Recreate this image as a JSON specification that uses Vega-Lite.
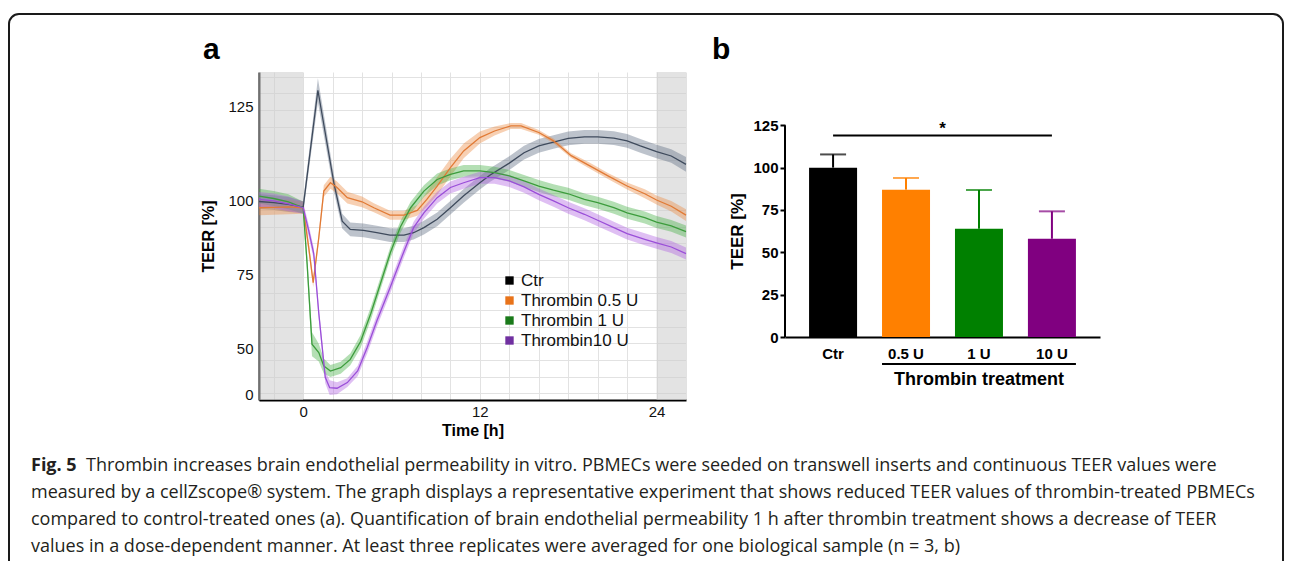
{
"$schema": "https://vega.github.io/schema/vega-lite/v6.json",
"background": "white",
"padding": {"left": 8, "top": 12, "right": 0, "bottom": 0},
"config": {"view": {"stroke": null}, "font": "Liberation Sans", "axis": {"labelFont": "Liberation Sans", "titleFont": "Liberation Sans", "labelFlush": false}},
"columns": 2,
"bounds": "flush",
"spacing": {"row": 41, "column": 99},
"resolve": {"scale": {"color": "independent", "fill": "independent", "stroke": "independent"}, "legend": {"color": "independent", "stroke": "independent", "fill": "independent"}},
"concat": [
    {
     "width": 427, "height": 328,
     "title": {"text": "a", "anchor": "start", "frame": "group", "dx": -56, "offset": -17, "baseline": "alphabetic", "fontSize": 30, "fontWeight": "bold", "font": "Liberation Sans", "color": "#000"},
     "data": {"values": [
{"s":"Ctr","t":-3,"v":99.6,"lo":97.1,"hi":102.1},
{"s":"Ctr","t":-2,"v":99.2,"lo":96.7,"hi":101.7},
{"s":"Ctr","t":-1,"v":98.6,"lo":96.1,"hi":101.1},
{"s":"Ctr","t":0,"v":97.7,"lo":95.7,"hi":99.7},
{"s":"Ctr","t":1.0,"v":137,"lo":133,"hi":141},
{"s":"Ctr","t":2.1,"v":105.4,"lo":102.6,"hi":108.2},
{"s":"Ctr","t":2.65,"v":93,"lo":90.5,"hi":95.5},
{"s":"Ctr","t":3.2,"v":90.2,"lo":87.9,"hi":92.5},
{"s":"Ctr","t":4.1,"v":89.9,"lo":87.6,"hi":92.2},
{"s":"Ctr","t":5.0,"v":89.1,"lo":86.8,"hi":91.4},
{"s":"Ctr","t":5.9,"v":88.3,"lo":86.0,"hi":90.6},
{"s":"Ctr","t":6.85,"v":88.3,"lo":86.0,"hi":90.6},
{"s":"Ctr","t":7.5,"v":89.1,"lo":86.8,"hi":91.4},
{"s":"Ctr","t":8.2,"v":90.8,"lo":88.5,"hi":93.1},
{"s":"Ctr","t":9.1,"v":93.6,"lo":91.3,"hi":95.9},
{"s":"Ctr","t":10,"v":97.5,"lo":95.2,"hi":99.8},
{"s":"Ctr","t":10.9,"v":101.5,"lo":99.2,"hi":103.8},
{"s":"Ctr","t":12,"v":105.9,"lo":103.6,"hi":108.2},
{"s":"Ctr","t":12.7,"v":108.5,"lo":106.2,"hi":110.8},
{"s":"Ctr","t":14,"v":112.5,"lo":110.2,"hi":114.8},
{"s":"Ctr","t":15,"v":116,"lo":113.7,"hi":118.3},
{"s":"Ctr","t":16,"v":118.3,"lo":116.0,"hi":120.6},
{"s":"Ctr","t":17,"v":119.6,"lo":117.3,"hi":121.9},
{"s":"Ctr","t":18,"v":120.8,"lo":118.5,"hi":123.1},
{"s":"Ctr","t":19.1,"v":121.3,"lo":119.0,"hi":123.6},
{"s":"Ctr","t":20,"v":121.3,"lo":119.0,"hi":123.6},
{"s":"Ctr","t":21.1,"v":120.9,"lo":118.6,"hi":123.2},
{"s":"Ctr","t":22,"v":120.0,"lo":117.7,"hi":122.3},
{"s":"Ctr","t":22.9,"v":118.3,"lo":116.0,"hi":120.6},
{"s":"Ctr","t":24,"v":116.4,"lo":114.1,"hi":118.7},
{"s":"Ctr","t":25,"v":114.9,"lo":112.6,"hi":117.2},
{"s":"Ctr","t":26,"v":112.1,"lo":109.6,"hi":114.6},
{"s":"Thrombin 0.5 U","t":-3,"v":97.5,"lo":95,"hi":100},
{"s":"Thrombin 0.5 U","t":-2,"v":97.6,"lo":95.1,"hi":100.1},
{"s":"Thrombin 0.5 U","t":-1,"v":97.8,"lo":95.3,"hi":100.3},
{"s":"Thrombin 0.5 U","t":0,"v":97.5,"lo":95.5,"hi":99.5},
{"s":"Thrombin 0.5 U","t":0.38,"v":84,"lo":82,"hi":86},
{"s":"Thrombin 0.5 U","t":0.68,"v":72.3,"lo":70.8,"hi":73.8},
{"s":"Thrombin 0.5 U","t":1.06,"v":87.4,"lo":85.9,"hi":88.9},
{"s":"Thrombin 0.5 U","t":1.4,"v":103.1,"lo":101.1,"hi":105.1},
{"s":"Thrombin 0.5 U","t":1.85,"v":105.9,"lo":103.9,"hi":107.9},
{"s":"Thrombin 0.5 U","t":2.3,"v":104.3,"lo":102.3,"hi":106.3},
{"s":"Thrombin 0.5 U","t":3.0,"v":100.9,"lo":98.9,"hi":102.9},
{"s":"Thrombin 0.5 U","t":4.0,"v":99.5,"lo":97.7,"hi":101.3},
{"s":"Thrombin 0.5 U","t":4.8,"v":97.5,"lo":96,"hi":99},
{"s":"Thrombin 0.5 U","t":5.9,"v":95,"lo":93.5,"hi":96.5},
{"s":"Thrombin 0.5 U","t":6.85,"v":95,"lo":93.5,"hi":96.5},
{"s":"Thrombin 0.5 U","t":7.75,"v":96.6,"lo":94.8,"hi":98.4},
{"s":"Thrombin 0.5 U","t":8.4,"v":100.3,"lo":97.8,"hi":102.8},
{"s":"Thrombin 0.5 U","t":9.1,"v":104.8,"lo":101.8,"hi":107.8},
{"s":"Thrombin 0.5 U","t":10,"v":111,"lo":108,"hi":114},
{"s":"Thrombin 0.5 U","t":10.9,"v":116.6,"lo":114.1,"hi":119.1},
{"s":"Thrombin 0.5 U","t":12,"v":121.1,"lo":119.1,"hi":123.1},
{"s":"Thrombin 0.5 U","t":13,"v":123.3,"lo":121.8,"hi":124.8},
{"s":"Thrombin 0.5 U","t":14.1,"v":125,"lo":124,"hi":126},
{"s":"Thrombin 0.5 U","t":14.8,"v":125,"lo":124,"hi":126},
{"s":"Thrombin 0.5 U","t":16,"v":122.8,"lo":122,"hi":123.6},
{"s":"Thrombin 0.5 U","t":17,"v":120,"lo":119.2,"hi":120.8},
{"s":"Thrombin 0.5 U","t":18.2,"v":115,"lo":114.2,"hi":115.8},
{"s":"Thrombin 0.5 U","t":19.5,"v":111.5,"lo":110.5,"hi":112.5},
{"s":"Thrombin 0.5 U","t":20.7,"v":108.2,"lo":107.2,"hi":109.2},
{"s":"Thrombin 0.5 U","t":22,"v":104.8,"lo":103.6,"hi":106},
{"s":"Thrombin 0.5 U","t":23.2,"v":102.2,"lo":100.7,"hi":103.7},
{"s":"Thrombin 0.5 U","t":24,"v":100.1,"lo":98.6,"hi":101.6},
{"s":"Thrombin 0.5 U","t":25,"v":98,"lo":96.2,"hi":99.8},
{"s":"Thrombin 0.5 U","t":26,"v":95,"lo":93,"hi":97},
{"s":"Thrombin 1 U","t":-3,"v":101.4,"lo":98.9,"hi":103.9},
{"s":"Thrombin 1 U","t":-2,"v":100.6,"lo":98.1,"hi":103.1},
{"s":"Thrombin 1 U","t":-1,"v":99.5,"lo":97,"hi":102},
{"s":"Thrombin 1 U","t":0,"v":97.5,"lo":95.5,"hi":99.5},
{"s":"Thrombin 1 U","t":0.27,"v":78.5,"lo":75.5,"hi":81.5},
{"s":"Thrombin 1 U","t":0.6,"v":51.6,"lo":47.6,"hi":55.6},
{"s":"Thrombin 1 U","t":1.06,"v":48.8,"lo":45.8,"hi":51.8},
{"s":"Thrombin 1 U","t":1.4,"v":44.3,"lo":41.8,"hi":46.8},
{"s":"Thrombin 1 U","t":1.85,"v":42.6,"lo":40.6,"hi":44.6},
{"s":"Thrombin 1 U","t":2.55,"v":43.7,"lo":41.7,"hi":45.7},
{"s":"Thrombin 1 U","t":3.2,"v":46.5,"lo":44.5,"hi":48.5},
{"s":"Thrombin 1 U","t":3.9,"v":52.5,"lo":50.3,"hi":54.7},
{"s":"Thrombin 1 U","t":4.6,"v":62,"lo":59.8,"hi":64.2},
{"s":"Thrombin 1 U","t":5.25,"v":72,"lo":70,"hi":74},
{"s":"Thrombin 1 U","t":5.93,"v":82.5,"lo":80.5,"hi":84.5},
{"s":"Thrombin 1 U","t":6.6,"v":91,"lo":89,"hi":93},
{"s":"Thrombin 1 U","t":7.3,"v":97.5,"lo":95.5,"hi":99.5},
{"s":"Thrombin 1 U","t":8.2,"v":103.1,"lo":101.1,"hi":105.1},
{"s":"Thrombin 1 U","t":9.1,"v":107,"lo":105,"hi":109},
{"s":"Thrombin 1 U","t":10,"v":108.7,"lo":106.7,"hi":110.7},
{"s":"Thrombin 1 U","t":10.9,"v":109.9,"lo":107.9,"hi":111.9},
{"s":"Thrombin 1 U","t":12,"v":109.9,"lo":107.9,"hi":111.9},
{"s":"Thrombin 1 U","t":13,"v":109.3,"lo":107.3,"hi":111.3},
{"s":"Thrombin 1 U","t":14,"v":108.2,"lo":106.2,"hi":110.2},
{"s":"Thrombin 1 U","t":15,"v":106.5,"lo":104.5,"hi":108.5},
{"s":"Thrombin 1 U","t":16,"v":104.8,"lo":102.8,"hi":106.8},
{"s":"Thrombin 1 U","t":17,"v":103.4,"lo":101.4,"hi":105.4},
{"s":"Thrombin 1 U","t":18,"v":102.2,"lo":100.2,"hi":104.2},
{"s":"Thrombin 1 U","t":19.1,"v":100.3,"lo":98.3,"hi":102.3},
{"s":"Thrombin 1 U","t":20,"v":99.2,"lo":97.2,"hi":101.2},
{"s":"Thrombin 1 U","t":21.1,"v":97.5,"lo":95.5,"hi":99.5},
{"s":"Thrombin 1 U","t":22,"v":95.8,"lo":93.8,"hi":97.8},
{"s":"Thrombin 1 U","t":23.2,"v":94.2,"lo":92.2,"hi":96.2},
{"s":"Thrombin 1 U","t":24,"v":92.7,"lo":90.7,"hi":94.7},
{"s":"Thrombin 1 U","t":25,"v":91.4,"lo":89.4,"hi":93.4},
{"s":"Thrombin 1 U","t":26,"v":89.5,"lo":87.5,"hi":91.5},
{"s":"Thrombin10 U","t":-3,"v":100.3,"lo":97.8,"hi":102.8},
{"s":"Thrombin10 U","t":-2,"v":99.8,"lo":97.3,"hi":102.3},
{"s":"Thrombin10 U","t":-1,"v":98.8,"lo":96.3,"hi":101.3},
{"s":"Thrombin10 U","t":0,"v":97.5,"lo":95.5,"hi":99.5},
{"s":"Thrombin10 U","t":0.38,"v":89.7,"lo":87.7,"hi":91.7},
{"s":"Thrombin10 U","t":0.72,"v":82,"lo":80,"hi":84},
{"s":"Thrombin10 U","t":1.06,"v":62,"lo":60,"hi":64},
{"s":"Thrombin10 U","t":1.5,"v":40.5,"lo":38.5,"hi":42.5},
{"s":"Thrombin10 U","t":1.8,"v":37,"lo":34.5,"hi":39.5},
{"s":"Thrombin10 U","t":2.3,"v":36.8,"lo":34.8,"hi":38.8},
{"s":"Thrombin10 U","t":3.0,"v":38.7,"lo":37.2,"hi":40.2},
{"s":"Thrombin10 U","t":3.7,"v":42.6,"lo":40.8,"hi":44.4},
{"s":"Thrombin10 U","t":4.35,"v":50.5,"lo":48.5,"hi":52.5},
{"s":"Thrombin10 U","t":5.0,"v":59.4,"lo":57.4,"hi":61.4},
{"s":"Thrombin10 U","t":5.9,"v":70.6,"lo":68.6,"hi":72.6},
{"s":"Thrombin10 U","t":6.85,"v":82.9,"lo":80.9,"hi":84.9},
{"s":"Thrombin10 U","t":7.5,"v":90.8,"lo":88.8,"hi":92.8},
{"s":"Thrombin10 U","t":8.2,"v":95.8,"lo":93.8,"hi":97.8},
{"s":"Thrombin10 U","t":9.1,"v":100.9,"lo":98.9,"hi":102.9},
{"s":"Thrombin10 U","t":10,"v":104.3,"lo":102.3,"hi":106.3},
{"s":"Thrombin10 U","t":10.9,"v":105.9,"lo":103.9,"hi":107.9},
{"s":"Thrombin10 U","t":12,"v":107.6,"lo":105.6,"hi":109.6},
{"s":"Thrombin10 U","t":13,"v":107.6,"lo":105.6,"hi":109.6},
{"s":"Thrombin10 U","t":14,"v":106.5,"lo":104.5,"hi":108.5},
{"s":"Thrombin10 U","t":15,"v":104.5,"lo":102.5,"hi":106.5},
{"s":"Thrombin10 U","t":16,"v":102,"lo":100,"hi":104},
{"s":"Thrombin10 U","t":17,"v":99.8,"lo":97.8,"hi":101.8},
{"s":"Thrombin10 U","t":18,"v":97.5,"lo":95.5,"hi":99.5},
{"s":"Thrombin10 U","t":19.1,"v":95.3,"lo":93.3,"hi":97.3},
{"s":"Thrombin10 U","t":20,"v":93.3,"lo":91.3,"hi":95.3},
{"s":"Thrombin10 U","t":21.1,"v":90.8,"lo":88.8,"hi":92.8},
{"s":"Thrombin10 U","t":22,"v":88.8,"lo":86.8,"hi":90.8},
{"s":"Thrombin10 U","t":23.2,"v":86.9,"lo":84.9,"hi":88.9},
{"s":"Thrombin10 U","t":24,"v":85.7,"lo":83.7,"hi":87.7},
{"s":"Thrombin10 U","t":25,"v":84.3,"lo":82.3,"hi":86.3},
{"s":"Thrombin10 U","t":26,"v":82.1,"lo":80.1,"hi":84.1}
     ]},
     "layer": [
      {
       "data": {"values": [{"a": -3, "b": 0}, {"a": 24, "b": 26}]},
       "mark": {"type": "rect", "color": "#cccccc", "opacity": 0.55},
       "encoding": {
        "x": {"field": "a", "type": "quantitative", "scale": {"domain": [-3, 26], "nice": false, "zero": false},
              "axis": {"title": "Time [h]", "values": [-2,0,2,4,6,8,10,12,14,16,18,20,22,24,26], "labelExpr": "datum.value % 12 === 0 ? datum.label : ''", "grid": true, "gridColor": "#e2e2e2", "ticks": false, "domainColor": "#000", "domainWidth": 2, "labelFontSize": 15, "labelColor": "#111", "labelPadding": 4, "titleFontSize": 16, "titleFontWeight": "bold", "titleColor": "#000", "titlePadding": 3}},
        "x2": {"field": "b"}
       }
      },
      {
       "mark": {"type": "area", "opacity": 0.4},
       "encoding": {
        "x": {"field": "t", "type": "quantitative", "scale": {"domain": [-3, 26], "nice": false, "zero": false},
              "axis": {"title": "Time [h]", "values": [-2,0,2,4,6,8,10,12,14,16,18,20,22,24,26], "labelExpr": "datum.value % 12 === 0 ? datum.label : ''", "grid": true, "gridColor": "#e2e2e2", "ticks": false, "domainColor": "#000", "domainWidth": 2, "labelFontSize": 15, "labelColor": "#111", "labelPadding": 4, "titleFontSize": 16, "titleFontWeight": "bold", "titleColor": "#000", "titlePadding": 3}},
        "y": {"field": "lo", "type": "quantitative", "scale": {"domain": [32.85, 143.14], "nice": false, "zero": false},
              "axis": {"orient": "right", "title": null, "values": [141.56,135.96,130.35,124.75,119.14,113.54,107.93,102.33,96.72,91.12,85.51,79.91,74.30,68.70,63.09,57.49,51.88,46.28,40.67,35.07], "labels": false, "ticks": false, "domain": false, "grid": true, "gridColor": "#e2e2e2"}},
        "y2": {"field": "hi"},
        "fill": {"field": "s", "type": "nominal", "scale": {"range": ["#5a6a80", "#ec8a40", "#43b043", "#b060e0"]}, "legend": null}
       }
      },
      {
       "mark": {"type": "line", "strokeWidth": 1.3},
       "encoding": {
        "x": {"field": "t", "type": "quantitative", "scale": {"domain": [-3, 26], "nice": false, "zero": false},
              "axis": {"title": "Time [h]", "values": [-2,0,2,4,6,8,10,12,14,16,18,20,22,24,26], "labelExpr": "datum.value % 12 === 0 ? datum.label : ''", "grid": true, "gridColor": "#e2e2e2", "ticks": false, "domainColor": "#000", "domainWidth": 2, "labelFontSize": 15, "labelColor": "#111", "labelPadding": 4, "titleFontSize": 16, "titleFontWeight": "bold", "titleColor": "#000", "titlePadding": 3}},
        "y": {"field": "v", "type": "quantitative", "scale": {"domain": [32.85, 143.14], "nice": false, "zero": false},
              "axis": {"orient": "left", "title": "TEER [%]", "values": [34.8, 50, 75, 100, 131.4], "labelExpr": "datum.value > 120 ? '125' : (datum.value < 40 ? '0' : format(datum.value, 'd'))", "grid": false, "ticks": false, "domainColor": "#000", "domainWidth": 2, "labelPadding": 6, "labelFontSize": 15, "labelColor": "#111", "titleFontSize": 16, "titleFontWeight": "bold", "titleColor": "#000", "titlePadding": 11}},
        "stroke": {"field": "s", "type": "nominal", "scale": {"domain": ["Ctr", "Thrombin 0.5 U", "Thrombin 1 U", "Thrombin10 U"], "range": ["#3e4a5c", "#e17a35", "#3c9c3c", "#9a4ed8"]},
                   "legend": {"orient": "none", "legendX": 242, "legendY": 200, "title": null, "symbolType": "square", "symbolSize": 70, "symbolStrokeWidth": 0, "labelFontSize": 17, "labelFont": "Liberation Sans", "labelColor": "#111", "rowPadding": 2, "labelOffset": 3, "padding": 0,
                              "encode": {"symbols": {"update": {"fill": {"signal": "datum.value === 'Ctr' ? '#000000' : datum.value === 'Thrombin 0.5 U' ? '#e8731a' : datum.value === 'Thrombin 1 U' ? '#1a7a1a' : '#7030a0'"}, "stroke": {"value": "transparent"}, "opacity": {"value": 1}, "fillOpacity": {"value": 1}}}}}}
       }
      }
     ],
     "resolve": {"axis": {"y": "independent"}}
    },
    {
     "width": 315, "height": 265,
     "title": {"text": "b", "anchor": "start", "frame": "group", "dx": -73, "offset": -17, "baseline": "alphabetic", "fontSize": 30, "fontWeight": "bold", "font": "Liberation Sans", "color": "#000"},
     "data": {"values": [
      {"g": "Ctr", "m": 100, "e": 107.8},
      {"g": "0.5 U", "m": 87, "e": 93.9},
      {"g": "1 U", "m": 63.9, "e": 86.8},
      {"g": "10 U", "m": 58, "e": 74.2}
     ]},
     "encoding": {
      "x": {"field": "g", "type": "nominal", "sort": null, "scale": {"paddingInner": 0.342, "paddingOuter": 0.33},
            "axis": {"title": null, "labelAngle": 0, "ticks": false, "domainWidth": 2, "domainColor": "#000", "labelFontSize": 15, "labelFontWeight": "bold", "labelPadding": 9, "labelColor": "#000"}}
     },
     "layer": [
      {
       "mark": {"type": "bar"},
       "encoding": {
        "y": {"field": "m", "type": "quantitative", "scale": {"domain": [0, 156.47], "nice": false},
              "axis": {"title": "TEER [%]", "values": [0, 25, 50, 75, 100, 125], "grid": false, "domain": false, "tickSize": 5, "tickWidth": 2, "tickColor": "#000", "labelFontSize": 15, "labelFontWeight": "bold", "labelPadding": 2, "labelColor": "#000", "titleFontSize": 17, "titleFontWeight": "bold", "titleColor": "#000", "titlePadding": 6, "titleY": 159}},
        "color": {"field": "g", "type": "nominal", "scale": {"domain": ["Ctr", "0.5 U", "1 U", "10 U"], "range": ["#000000", "#ff8000", "#008000", "#800080"]}, "legend": null}
       }
      },
      {
       "mark": {"type": "rule", "strokeWidth": 2},
       "encoding": {
        "y": {"field": "m", "type": "quantitative"},
        "y2": {"field": "e"},
        "color": {"field": "g", "type": "nominal", "legend": null}
       }
      },
      {
       "mark": {"type": "tick", "thickness": 2, "size": 26},
       "encoding": {
        "y": {"field": "e", "type": "quantitative"},
        "color": {"field": "g", "type": "nominal", "legend": null}
       }
      },
      {
       "data": {"values": [{}]},
       "mark": {"type": "rule", "strokeWidth": 2, "color": "#000"},
       "encoding": {
        "x": {"datum": "Ctr", "bandPosition": -0.5015},
        "y": {"datum": 0, "type": "quantitative"},
        "y2": {"datum": 125}
       }
      },
      {
       "data": {"values": [{}]},
       "mark": {"type": "rule", "strokeWidth": 2, "color": "#000"},
       "encoding": {
        "x": {"datum": "Ctr"},
        "x2": {"datum": "10 U"},
        "y": {"datum": 119, "type": "quantitative"}
       }
      },
      {
       "data": {"values": [{}]},
       "mark": {"type": "text", "text": "*", "fontSize": 17, "fontWeight": "bold", "baseline": "middle", "align": "center", "color": "#000"},
       "encoding": {
        "x": {"datum": "0.5 U", "bandPosition": 1.26},
        "y": {"datum": 123, "type": "quantitative"}
       }
      },
      {
       "data": {"values": [{}]},
       "mark": {"type": "rule", "strokeWidth": 2, "color": "#000"},
       "encoding": {
        "x": {"datum": "0.5 U", "bandPosition": 0},
        "x2": {"datum": "10 U", "bandPosition": 1},
        "y": {"datum": -16, "type": "quantitative"}
       }
      },
      {
       "data": {"values": [{}]},
       "mark": {"type": "text", "text": "Thrombin treatment", "fontSize": 18, "fontWeight": "bold", "baseline": "middle", "align": "center", "color": "#000"},
       "encoding": {
        "x": {"datum": "1 U"},
        "y": {"datum": -25.3, "type": "quantitative"}
       }
      }
     ]
    },
    {
     "width": 427, "height": 120,
     "data": {"values": [
      {"line": 1, "seg": "fig", "text": "Fig. 5"},
      {"line": 1, "seg": "first", "text": "Thrombin increases brain endothelial permeability in vitro. PBMECs were seeded on transwell inserts and continuous TEER values were"},
      {"line": 2, "seg": "body", "text": "measured by a cellZscope® system. The graph displays a representative experiment that shows reduced TEER values of thrombin-treated PBMECs"},
      {"line": 3, "seg": "body", "text": "compared to control-treated ones (a). Quantification of brain endothelial permeability 1 h after thrombin treatment shows a decrease of TEER"},
      {"line": 4, "seg": "body", "text": "values in a dose-dependent manner. At least three replicates were averaged for one biological sample (n = 3, b)"}
     ]},
     "layer": [
      {
       "data": {"values": [{}]},
       "mark": {"type": "rect", "fillOpacity": 0, "stroke": "#1a1a1a", "strokeWidth": 2, "cornerRadius": 10},
       "encoding": {
        "x": {"datum": -0.58548, "type": "quantitative", "scale": {"domain": [0, 1], "nice": false, "zero": false}, "axis": null},
        "x2": {"datum": 2.39813},
        "y": {"datum": -15.7407, "type": "quantitative", "scale": {"domain": [0.07407, 4.5185], "reverse": true, "nice": false, "zero": false}, "axis": null},
        "y2": {"datum": 5.2593}
       }
      },
      {"transform": [{"filter": "datum.seg === 'fig'"}], "mark": {"type": "text", "align": "left", "baseline": "middle", "font": "Open Sans", "fontSize": 18, "fontWeight": "bold", "color": "#231f20"},
       "encoding": {"x": {"datum": -0.53396, "type": "quantitative"}, "y": {"field": "line", "type": "quantitative"}, "text": {"field": "text"}}},
      {"transform": [{"filter": "datum.seg === 'first'"}], "mark": {"type": "text", "align": "left", "baseline": "middle", "font": "Open Sans", "fontSize": 18, "color": "#231f20"},
       "encoding": {"x": {"datum": -0.40515, "type": "quantitative"}, "y": {"field": "line", "type": "quantitative"}, "text": {"field": "text"}}},
      {"transform": [{"filter": "datum.seg === 'body'"}], "mark": {"type": "text", "align": "left", "baseline": "middle", "font": "Open Sans", "fontSize": 18, "color": "#231f20"},
       "encoding": {"x": {"datum": -0.53396, "type": "quantitative"}, "y": {"field": "line", "type": "quantitative"}, "text": {"field": "text"}}}
     ]
    }
]
}
